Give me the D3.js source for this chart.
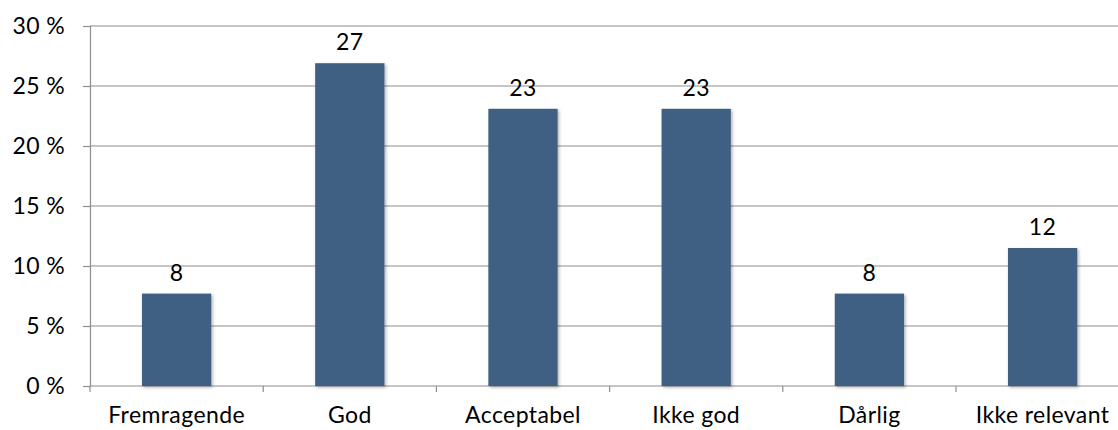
<!DOCTYPE html>
<html><head><meta charset="utf-8">
<script src="https://cdn.jsdelivr.net/npm/d3@7"></script>
<style>
html,body{margin:0;padding:0;background:#fff;}
svg{display:block;font-family:Lato,"Open Sans",sans-serif;}
</style></head>
<body>
<svg id="c" width="1118" height="430"></svg>
<script>
const categories = ["Fremragende","God","Acceptabel","Ikke god","Dårlig","Ikke relevant"];
const values = [7.7, 26.9, 23.1, 23.1, 7.7, 11.5];
const valueLabels = ["8","27","23","23","8","12"];
const yTicks = [0,5,10,15,20,25,30];

const svg = d3.select("#c");
const x0 = 90, catW = 173.2;
const x = d3.scaleBand().domain(categories).range([x0, x0 + catW*categories.length]).paddingInner(0.6).paddingOuter(0.3);
const y = d3.scaleLinear().domain([0,30]).range([386,26]);

const defs = svg.append("defs");
const f = defs.append("filter").attr("id","sh").attr("x","-20%").attr("y","-20%").attr("width","150%").attr("height","150%");
f.append("feDropShadow").attr("dx",1.5).attr("dy",1.5).attr("stdDeviation",1.5).attr("flood-color","#000").attr("flood-opacity",0.3);

// gridlines
svg.append("g").selectAll("line").data(yTicks.filter(d=>d>0)).join("line")
  .attr("x1",x0).attr("x2",1118).attr("y1",d=>y(d)).attr("y2",d=>y(d))
  .attr("stroke","#8e8e8e").attr("stroke-width",1.2);

// y axis
const ya = svg.append("g").attr("transform",`translate(${x0},0)`)
  .call(d3.axisLeft(y).tickValues(yTicks).tickSize(7).tickPadding(18).tickFormat(d=>d+" %"));
ya.select(".domain").attr("stroke","#8e8e8e").attr("stroke-width",1.2);
ya.selectAll(".tick line").attr("stroke","#8e8e8e").attr("stroke-width",1.2);
ya.selectAll(".tick text").attr("font-size",23).attr("fill","#000").attr("font-family","Lato,sans-serif").attr("letter-spacing",0.4);

// x axis baseline & ticks
const bounds = d3.range(categories.length+1).map(i=>x0+i*catW);
svg.append("line").attr("x1",x0).attr("x2",1118).attr("y1",y(0)).attr("y2",y(0)).attr("stroke","#8e8e8e").attr("stroke-width",1.2);
svg.append("g").selectAll("line").data(bounds).join("line")
  .attr("x1",d=>d).attr("x2",d=>d).attr("y1",y(0)).attr("y2",y(0)+6)
  .attr("stroke","#8e8e8e").attr("stroke-width",1.2);

// bars
svg.append("g").selectAll("rect").data(values).join("rect")
  .attr("x",(d,i)=>x(categories[i])).attr("width",x.bandwidth())
  .attr("y",d=>y(d)).attr("height",d=>y(0)-y(d))
  .attr("fill","#3f6183").attr("filter","url(#sh)");

// value labels
svg.append("g").selectAll("text").data(values).join("text")
  .attr("x",(d,i)=>x(categories[i])+x.bandwidth()/2).attr("y",d=>y(d)-13)
  .attr("text-anchor","middle").attr("font-size",23).attr("fill","#000").attr("letter-spacing",0.4)
  .text((d,i)=>valueLabels[i]);

// category labels
svg.append("g").selectAll("text").data(categories).join("text")
  .attr("x",(d,i)=>x(d)+x.bandwidth()/2).attr("y",423)
  .attr("text-anchor","middle").attr("font-size",23).attr("fill","#000").attr("letter-spacing",0.4)
  .text(d=>d);
</script>
</body></html>
